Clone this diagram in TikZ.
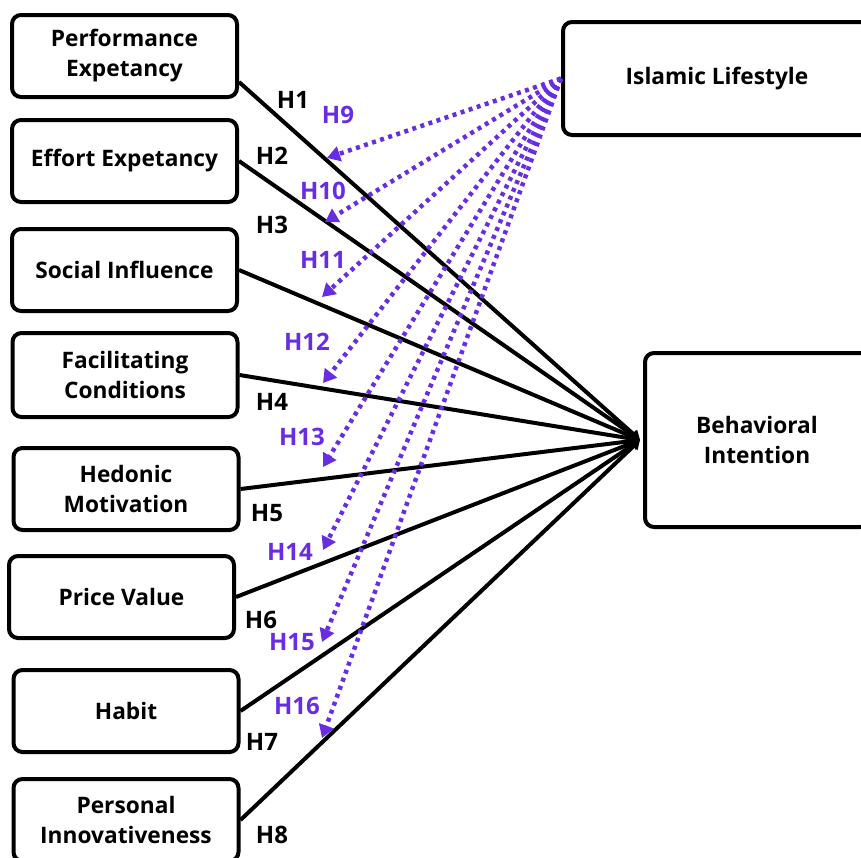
\documentclass[tikz,border=0pt]{standalone}
\usepackage{fontspec}
\setmainfont{Open Sans}
\usetikzlibrary{arrows.meta}
\definecolor{modpurple}{RGB}{104,44,226}

\begin{document}
\begin{tikzpicture}[x=1pt, y=-1pt,
  box/.style={draw, line width=4pt, rounded corners=9pt, align=center,
    inner sep=0pt, minimum width=225pt, minimum height=82pt,
    font=\fontsize{22.7}{30}\selectfont\bfseries},
  hyp/.style={font=\fontsize{24}{28}\selectfont\bfseries, inner sep=0pt},
  modlab/.style={hyp, text=modpurple},
  path/.style={line width=4pt, -{Triangle[length=9pt, width=11pt]}},
  modpath/.style={modpurple, line width=4.5pt, dash pattern=on 4pt off 4.5pt,
    -{Triangle[length=13pt, width=15pt]}}]
  \useasboundingbox (0,0) rectangle (861,857);
  % constructs
  \node [box] (pe) at (124.5,56) {Performance\\Expetancy};
  \node [box] (ee) at (124.5,161) {Effort Expetancy};
  \node [box] (si) at (124.5,270) {Social Influence};
  \node [box, minimum height=84pt] (fc) at (125,375) {Facilitating\\Conditions};
  \node [box] (hm) at (126,489) {Hedonic\\Motivation};
  \node [box] (pv) at (121.5,597) {Price Value};
  \node [box] (hb) at (126,711) {Habit};
  \node [box] (pi) at (126,820) {Personal\\Innovativeness};
  \node [box, minimum width=308pt, minimum height=113pt] (il) at (717,78.5) {Islamic Lifestyle};
  \node [box, minimum width=224pt, minimum height=174pt] (bi) at (757,440) {Behavioral\\Intention};
  \coordinate (bitip) at ([xshift=-3pt]bi.west);
  % direct effects
  \draw [path] ([yshift=-26pt]pe.east) -- (bitip);
  \foreach \src in {ee,si,fc,hm,pv,hb,pi} {
    \draw [path] (\src.east) -- (bitip);
  };
  % moderating effects
  \foreach \n/\x/\y in {1/327/158, 2/325/222, 3/322/297, 4/323/383,
                        5/323/467, 6/323/550, 7/322/642, 8/322/738} {
    \coordinate (t\n) at (\x,\y);
    \draw [modpath] (il.west) -- (t\n);
  };
  % labels
  \foreach \n/\x/\y in {1/293/100, 2/272/156, 3/272/225, 4/272/402,
                        5/267/513, 6/261/620, 7/262/742, 8/272/835} {
    \node [hyp] (h\n) at (\x,\y) {H\n};
  };
  \foreach \n/\x/\y in {9/338/115, 10/323/191, 11/323/260, 12/307/342,
                        13/302/437, 14/290/552, 15/292/642, 16/297/706} {
    \node [modlab] (h\n) at (\x,\y) {H\n};
  };
\end{tikzpicture}
\end{document}
